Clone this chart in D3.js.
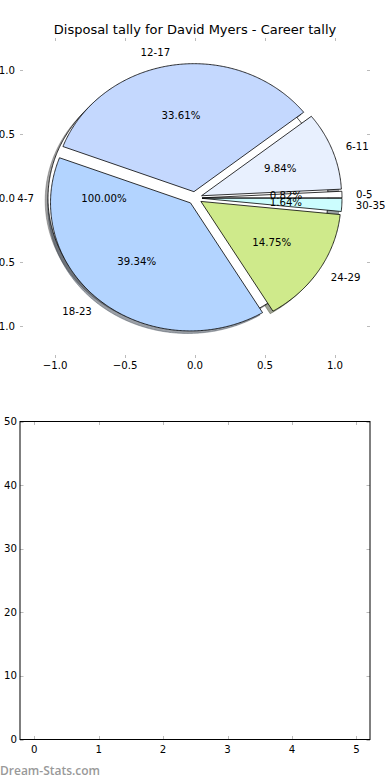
<!DOCTYPE html>
<html>
<head>
<meta charset="utf-8">
<script src="https://cdn.jsdelivr.net/npm/d3@7"></script>
<style>
  html, body { margin: 0; padding: 0; background: #fff; }
  svg { display: block; font-family: "DejaVu Sans", sans-serif; }
</style>
</head>
<body>
<svg id="chart" width="390" height="780"></svg>
<script>
// ---------- data ----------
const title = "Disposal tally for David Myers - Career tally";
const categories = ["0-5", "6-11", "12-17", "18-23", "24-29", "30-35"];
const values = [1, 12, 41, 48, 18, 2];
const sliceColors = ["#ffffff", "#e8f0fe", "#c4d8fe", "#b3d4ff", "#cfea8b", "#ccfdfe"];
const extraCategories = ["4-7"];
const extraValues = [1];
const extraColors = ["#ffffff"];
const pieXTicks = [-1.0, -0.5, 0.0, 0.5, 1.0];
const pieYTicks = [-1.0, -0.5, 0.0, 0.5, 1.0];
const barXTicks = [0, 1, 2, 3, 4, 5];
const barYTicks = [0, 10, 20, 30, 40, 50];
const watermark = "Dream-Stats.com";

const explode = 0.05, labelDist = 1.1, pctDist = 0.6;
const svg = d3.select("#chart");
const fmtTick = v => d3.format(".1f")(v).replace("-", "\u2212");
const fs = 10.2;

// ---------- top pie axes ----------
const px = d3.scaleLinear().domain([-1.25, 1.25]).range([20, 370]);
const py = d3.scaleLinear().domain([-1.25, 1.25]).range([358, 38]);
const line = d3.line().x(d => px(d[0])).y(d => py(d[1]));

svg.append("text").attr("x", 195).attr("y", 34).attr("text-anchor", "middle")
  .attr("font-size", 13).text(title);

function buildWedges(vals, cats, cols) {
  const total = d3.sum(vals);
  const pie = d3.pie().sort(null).value(d => d.v)
    .startAngle(0).endAngle(2 * Math.PI);
  return pie(vals.map((v, i) => ({ v, cat: cats[i], col: cols[i], total })));
}
function wedgePoints(w, ox, oy) {
  // pie angles used as math angles (counter-clockwise from +x)
  const t1 = w.startAngle, t2 = w.endAngle;
  const mid = (t1 + t2) / 2;
  const cx = explode * Math.cos(mid) + ox, cy = explode * Math.sin(mid) + oy;
  const n = Math.max(2, Math.ceil((t2 - t1) / 0.01));
  const pts = [];
  const full = (t2 - t1) >= 2 * Math.PI - 1e-9;
  if (!full) pts.push([cx, cy]);
  for (let k = 0; k <= n; k++) {
    const t = t1 + (t2 - t1) * k / n;
    pts.push([cx + Math.cos(t), cy + Math.sin(t)]);
  }
  pts.push(pts[0]);
  return { pts, mid, cx, cy };
}
function shadowColor(c) {
  const r = d3.rgb(c);
  return `rgb(${Math.round(r.r * 0.3)},${Math.round(r.g * 0.3)},${Math.round(r.b * 0.3)})`;
}

const extraW = buildWedges(extraValues, extraCategories, extraColors);
const mainW = buildWedges(values, categories, sliceColors);
const allW = extraW.concat(mainW);

const gPie = svg.append("g");
// shadows first (lower z-order)
allW.forEach(w => {
  const p = wedgePoints(w, -0.02, -0.02);
  gPie.append("path").attr("d", line(p.pts))
    .attr("fill", shadowColor(w.data.col)).attr("fill-opacity", 0.5)
    .attr("stroke", shadowColor(w.data.col)).attr("stroke-opacity", 0.5).attr("stroke-width", 0.8);
});
// wedges
allW.forEach(w => {
  const p = wedgePoints(w, 0, 0);
  gPie.append("path").attr("d", line(p.pts))
    .attr("fill", w.data.col).attr("stroke", "#000").attr("stroke-width", 0.8)
    .attr("stroke-linejoin", "miter");
});
// labels
allW.forEach(w => {
  const p = wedgePoints(w, 0, 0);
  const lx = p.cx + labelDist * Math.cos(p.mid), ly = p.cy + labelDist * Math.sin(p.mid);
  gPie.append("text").attr("x", px(lx)).attr("y", py(ly)).attr("dy", "0.35em")
    .attr("text-anchor", lx > 0 ? "start" : "end").attr("font-size", fs).text(w.data.cat);
  const qx = p.cx + pctDist * Math.cos(p.mid), qy = p.cy + pctDist * Math.sin(p.mid);
  gPie.append("text").attr("x", px(qx)).attr("y", py(qy)).attr("dy", "0.35em")
    .attr("text-anchor", "middle").attr("font-size", fs)
    .text(d3.format(".2f")(w.data.v / w.data.total * 100) + "%");
});

// pie axes ticks (no frame)
const tickCol = "#bbbbbb";
const gpa = svg.append("g");
pieXTicks.forEach(t => {
  const x = Math.round(px(t)) + 0.5;
  gpa.append("line").attr("x1", x).attr("x2", x).attr("y1", 38).attr("y2", 41).attr("stroke", tickCol);
  gpa.append("line").attr("x1", x).attr("x2", x).attr("y1", 358).attr("y2", 355).attr("stroke", tickCol);
  gpa.append("text").attr("x", px(t)).attr("y", 369).attr("text-anchor", "middle")
    .attr("font-size", fs).text(fmtTick(t));
});
pieYTicks.forEach(t => {
  const y = Math.round(py(t)) + 0.5;
  gpa.append("line").attr("x1", 20).attr("x2", 23).attr("y1", y).attr("y2", y).attr("stroke", tickCol);
  gpa.append("line").attr("x1", 370).attr("x2", 367).attr("y1", y).attr("y2", y).attr("stroke", tickCol);
  gpa.append("text").attr("x", 15).attr("y", py(t)).attr("dy", "0.35em").attr("text-anchor", "end")
    .attr("font-size", fs).text(fmtTick(t));
});

// ---------- bottom empty axes ----------
const bx = d3.scaleLinear().domain([-0.22, 5.21]).range([20, 370]);
const by = d3.scaleLinear().domain([0, 50]).range([739.5, 421.5]);
const gb = svg.append("g");
barXTicks.forEach(t => {
  const x = Math.round(bx(t)) + 0.5;
  gb.append("line").attr("x1", x).attr("x2", x).attr("y1", 739.5).attr("y2", 736).attr("stroke", tickCol);
  gb.append("line").attr("x1", x).attr("x2", x).attr("y1", 421.5).attr("y2", 425).attr("stroke", tickCol);
  gb.append("text").attr("x", bx(t)).attr("y", 753).attr("text-anchor", "middle")
    .attr("font-size", fs).text(t);
});
barYTicks.forEach(t => {
  const y = Math.round(by(t)) + 0.5;
  gb.append("line").attr("x1", 20).attr("x2", 23.5).attr("y1", y).attr("y2", y).attr("stroke", tickCol);
  gb.append("line").attr("x1", 370).attr("x2", 366.5).attr("y1", y).attr("y2", y).attr("stroke", tickCol);
  gb.append("text").attr("x", 17).attr("y", by(t)).attr("dy", "0.35em").attr("text-anchor", "end")
    .attr("font-size", fs).text(t);
});
gb.append("rect").attr("x", 20).attr("y", 421.5).attr("width", 350).attr("height", 318)
  .attr("fill", "none").attr("stroke", "#000").attr("stroke-width", 1);

svg.append("text").attr("x", 0).attr("y", 775).attr("font-size", 12)
  .attr("font-family", "'Open Sans', 'DejaVu Sans', sans-serif").attr("font-weight", 600)
  .attr("fill", "#999").text(watermark);
</script>
</body>
</html>
